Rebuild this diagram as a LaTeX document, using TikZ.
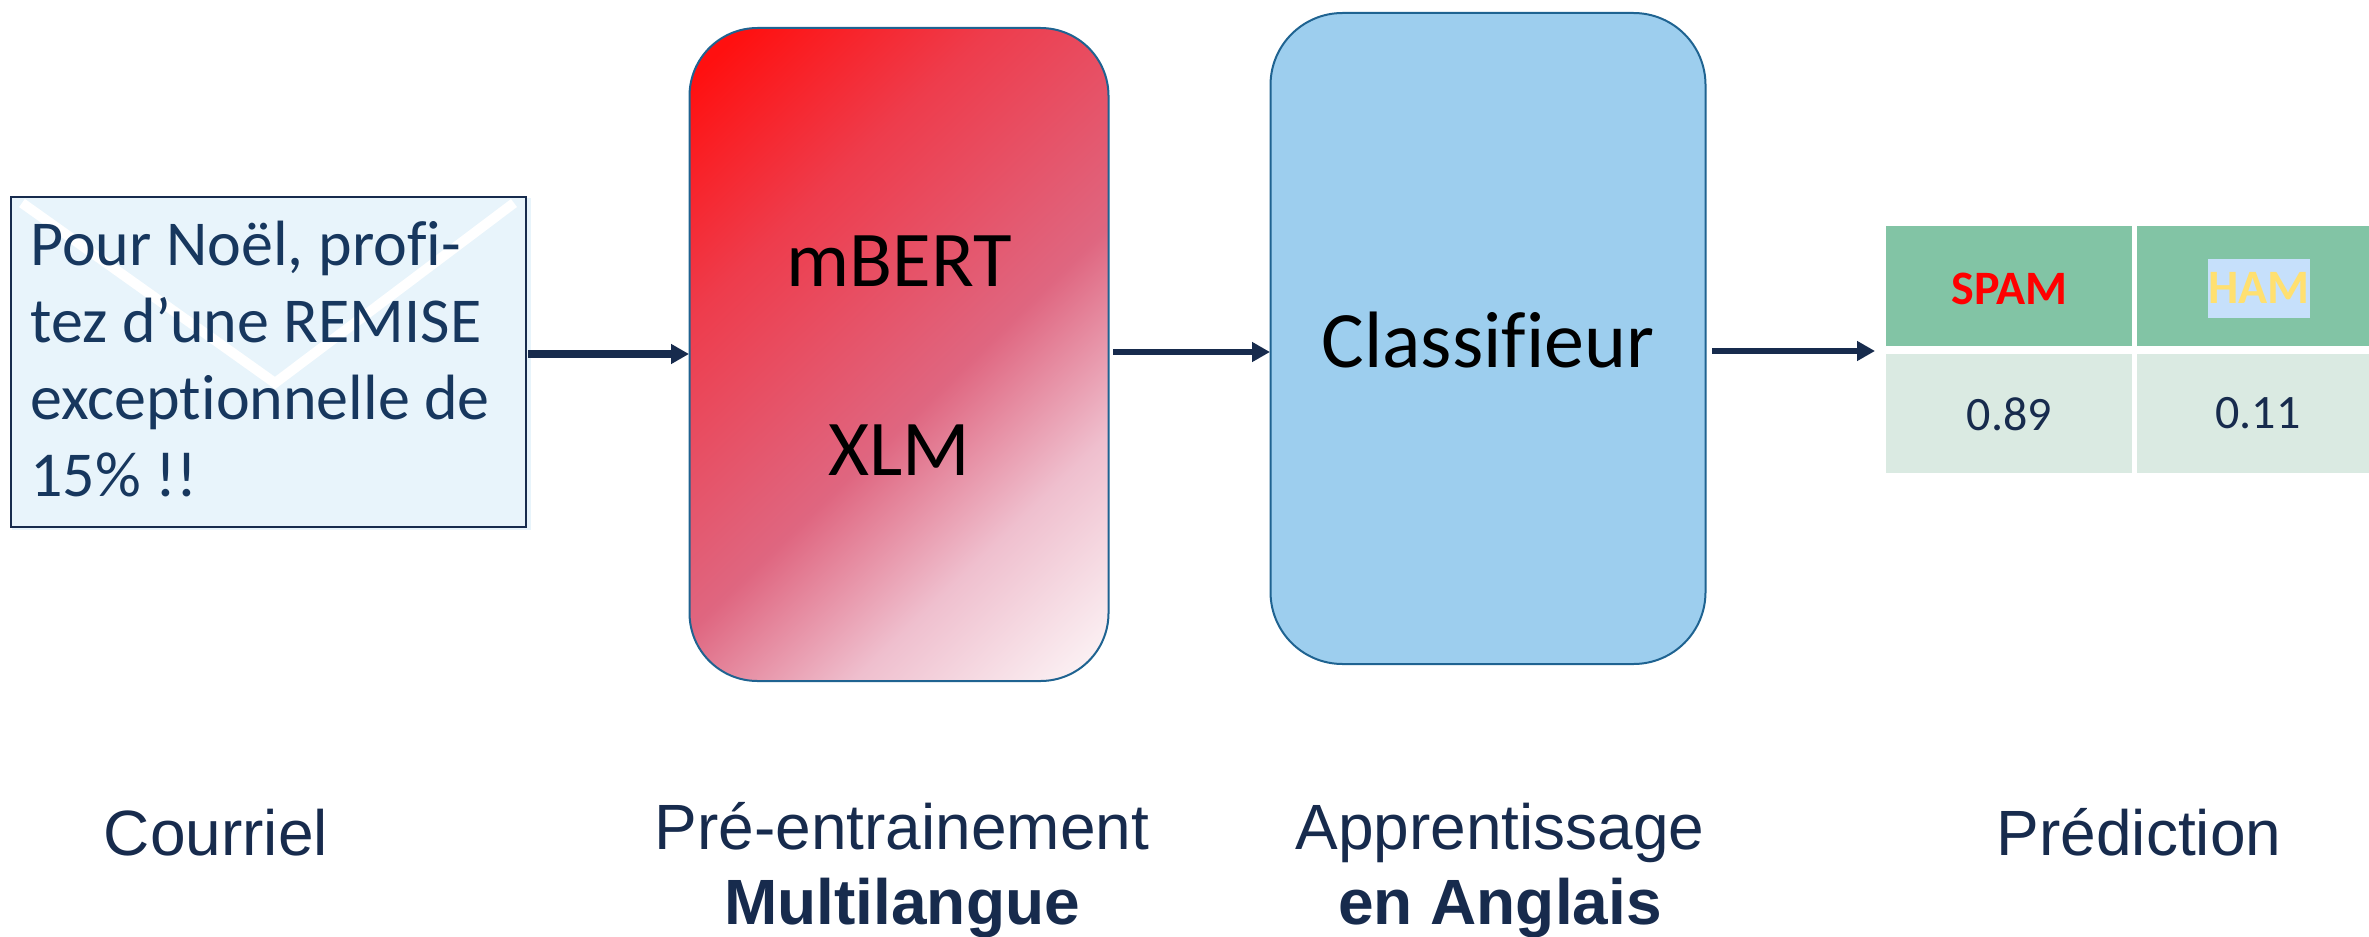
\documentclass[tikz,border=0pt]{standalone}
\usepackage{fontspec}
\setmainfont[Ligatures=NoCommon]{Carlito}
\newfontfamily\labelfont{Liberation Sans}
\usetikzlibrary{arrows.meta}
\definecolor{navy}{HTML}{172B4D}
\definecolor{envtext}{HTML}{17375E}
\definecolor{envfill}{HTML}{E8F4FB}
\definecolor{edge}{HTML}{1F6391}
\definecolor{bluefill}{HTML}{9DCEEE}
\definecolor{headfill}{HTML}{82C4A5}
\definecolor{bodyfill}{HTML}{DAEAE2}
\definecolor{hamhl}{HTML}{C6E0FB}
\definecolor{hamtext}{HTML}{FFE070}
\definecolor{g0}{HTML}{FBF0F3}
\definecolor{g1}{HTML}{EFBFCE}
\definecolor{g2}{HTML}{DF6680}
\definecolor{g3}{HTML}{EE3C4C}
\definecolor{g4}{HTML}{FF1010}
\pgfdeclareverticalshading{redfade}{100bp}{
  color(0bp)=(g0);
  color(17bp)=(g0);
  color(31bp)=(g1);
  color(45bp)=(g2);
  color(66bp)=(g3);
  color(82bp)=(g4);
  color(100bp)=(g4)}
\tikzset{
  flow/.style={draw=navy,line width=3pt,-{Triangle[length=9pt,width=9.5pt]}},
  roundbox/.style={draw=edge,line width=1pt,rounded corners=34pt,inner sep=0pt,text=black},
  cell/.style={inner sep=0pt,anchor=north west},
  celltext/.style={font=\fontsize{24}{28}\selectfont,inner sep=0pt},
  caption/.style={font=\labelfont\fontsize{32}{38}\selectfont,text=navy,inner sep=0pt,anchor=base},
  boldcaption/.style={caption,font=\labelfont\bfseries\fontsize{32}{38}\selectfont},
}
\begin{document}
\begin{tikzpicture}[x=0.5pt,y=-0.5pt]
\useasboundingbox (0,0) rectangle (2369,936);
% envelope
\fill[envfill] (12,198) rectangle (531,530);
\draw[white,line width=5pt] (22,203) -- (275,383) -- (514,203);
\node[draw=navy,line width=1pt,minimum width=257.5pt,minimum height=165pt,inner sep=0pt,anchor=north west] (env) at (10,196) {};
\node[anchor=north west,inner sep=0pt,align=left,text=envtext,font=\fontsize{32}{38.5}\selectfont] (envtxt) at (30,221)
  {Pour Noël, profi-\\tez d’une REMISE\\exceptionnelle de\\15\% !!};
% red box
\node[roundbox,minimum width=209.5pt,minimum height=326.5pt,anchor=north west,shading=redfade,shading angle=44] (red) at (688.5,27) {};
\node[font=\fontsize{39.5}{46}\selectfont,inner sep=0pt] (mbert) at (899,261) {mBERT};
\node[font=\fontsize{39.5}{46}\selectfont,inner sep=0pt] (xlm) at (899,450) {XLM};
% blue box
\node[roundbox,fill=bluefill,minimum width=217.5pt,minimum height=325.5pt,anchor=north west,rounded corners=36pt] (blue) at (1269.5,12) {};
\node[font=\fontsize{40}{46}\selectfont,inner sep=0pt] (clf) at (1488,340) {Classifieur};
% table
\node[cell,fill=headfill,minimum width=123pt,minimum height=60pt] (spam) at (1886,226) {};
\node[cell,fill=headfill,minimum width=116pt,minimum height=60pt] (ham) at (2137,226) {};
\node[cell,fill=bodyfill,minimum width=123pt,minimum height=59.5pt] (p1) at (1886,354) {};
\node[cell,fill=bodyfill,minimum width=116pt,minimum height=59.5pt] (p2) at (2137,354) {};
\node[celltext,font=\fontsize{24}{28}\selectfont\bfseries,text=red,yshift=-1.5pt] (spamt) at (spam.center) {SPAM};
\node[fill=hamhl,minimum width=51pt,minimum height=29.5pt,inner sep=0pt,font=\fontsize{24}{28}\selectfont\bfseries,text=hamtext] (hamt) at (2259,288) {HAM};
\node[celltext,text=navy] (p1t) at (p1.center) {0.89};
\node[celltext,text=navy] (p2t) at (2258,413) {0.11};
% arrows
\coordinate (a1) at (528,354);
\coordinate (a1e) at (689,354);
\coordinate (a2) at (1113,352);
\coordinate (a2e) at (1270,352);
\coordinate (a3) at (1712,351);
\coordinate (a3e) at (1875,351);
\draw[flow,line width=3.8pt] (a1) -- (a1e);
\draw[flow] (a2) -- (a2e);
\draw[flow] (a3) -- (a3e);
% captions
\node[caption] (c1) at (216,855) {Courriel};
\node[caption] (c2) at (902,849) {Pré-entrainement};
\node[boldcaption] (c3) at (902,924) {Multilangue};
\node[caption] (c4) at (1500,849) {Apprentissage};
\node[boldcaption] (c5) at (1500,924) {en Anglais};
\node[caption] (c6) at (2139,855) {Prédiction};
\end{tikzpicture}
\end{document}
